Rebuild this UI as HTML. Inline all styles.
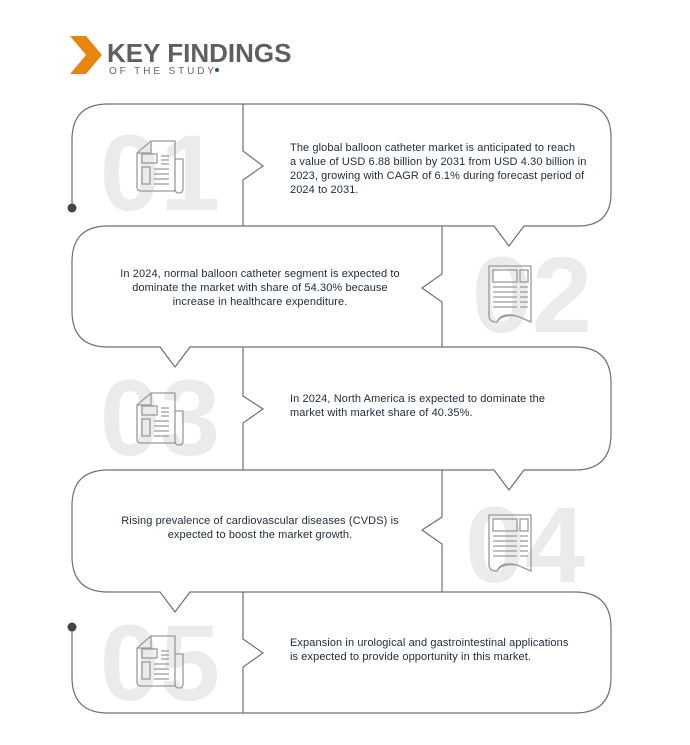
<!DOCTYPE html>
<html><head><meta charset="utf-8"><style>
body{margin:0;background:#fff;}
svg{display:block;}
.t{font-family:"Liberation Sans",sans-serif;font-size:11px;letter-spacing:0.1px;fill:#1e2a3a;}
.n{font-family:"Liberation Sans",sans-serif;font-weight:bold;font-size:108px;fill:#ebebeb;}
</style></head><body>
<svg width="690" height="745" viewBox="0 0 690 745" xmlns="http://www.w3.org/2000/svg">
<defs>
<g id="ic1" fill="none" stroke="#9a9a9a" stroke-width="1.3">
<path d="M14,0 H38 V50 H4 Q0,50 0,46 V12 Z M0,12 H14 V0"/>
<path d="M38,18 H46 V48 Q46,52 42,52 Q38,52 38,48"/>
<rect x="5" y="13" width="15" height="9"/><rect x="5" y="26" width="8" height="17"/>
<path d="M24,15 H32 M24,19 H32 M24,23 H32 M17,28 H32 M17,33 H32 M17,38 H32 M17,43 H32"/>
</g>
<g id="ic2" fill="none" stroke="#9a9a9a" stroke-width="1.3">
<path d="M0,0 H42 V56 L28,50 Q12,46 8,56 Q0,56 0,50 Z"/>
<path d="M8,56 Q12,48 28,50"/>
<rect x="4" y="4" width="24" height="12"/><rect x="31" y="4" width="8" height="12"/>
<path d="M4,21 H28 M4,26 H28 M4,31 H28 M4,36 H28 M4,41 H28 M31,21 H39 M31,26 H39 M31,31 H39 M31,36 H39 M31,41 H39"/>
</g>
</defs>
<polygon points="70,36 86,36 102,55 86,74 70,74 86,55" fill="#e8850f"/>
<text x="107" y="62" font-family="Liberation Sans,sans-serif" font-weight="bold" font-size="26" fill="#5f5f5f">KEY FINDINGS</text>
<text x="109" y="74" font-family="Liberation Sans,sans-serif" font-size="10" fill="#666" letter-spacing="2.9">OF THE STUDY</text>
<circle cx="217" cy="70" r="2" fill="#1b5e85"/>
<text class="n" x="160" y="210" text-anchor="middle">01</text>
<text class="n" x="532" y="332" text-anchor="middle">02</text>
<text class="n" x="160" y="455" text-anchor="middle">03</text>
<text class="n" x="525" y="582" text-anchor="middle">04</text>
<text class="n" x="160" y="700" text-anchor="middle">05</text>
<use href="#ic1" x="137" y="141"/>
<use href="#ic2" x="489" y="266"/>
<use href="#ic1" x="137" y="393"/>
<use href="#ic2" x="489" y="515"/>
<use href="#ic1" x="137" y="636"/>
<g fill="none" stroke="#707070" stroke-width="1.2">
<path d="M72,208 V140 Q72,104 108,104 H578 Q611,104 611,137 V193 Q611,226 578,226 H524 L509,246 L494,226 H108 Q72,226 72,262 V311 Q72,347 108,347 H160 L175,367 L190,347 H575 Q611,347 611,383 V434 Q611,470 575,470 H524 L509,490 L494,470 H108 Q72,470 72,506 V556 Q72,592 108,592 H160 L175,612 L190,592 H575 Q611,592 611,628 V677 Q611,713 575,713 H108 Q72,713 72,677 V627"/>
<path d="M243,104 V151 L263,166 L243,180 V226"/>
<path d="M442,226 V274 L422,288 L442,302 V347"/>
<path d="M243,347 V396 L263,409 L243,423 V470"/>
<path d="M442,470 V517 L422,530 L442,544 V592"/>
<path d="M243,592 V639 L263,653 L243,667 V713"/>
</g>
<circle cx="72" cy="208" r="4.5" fill="#444"/>
<circle cx="72" cy="627" r="4.5" fill="#444"/>
<text class="t" x="290" y="151">The global balloon catheter market is anticipated to reach</text>
<text class="t" x="290" y="165">a value of USD 6.88 billion by 2031 from USD 4.30 billion in</text>
<text class="t" x="290" y="179">2023, growing with CAGR of 6.1% during forecast period of</text>
<text class="t" x="290" y="193">2024 to 2031.</text>
<text class="t" x="260" y="277" text-anchor="middle">In 2024, normal balloon catheter segment is expected to</text>
<text class="t" x="260" y="291" text-anchor="middle">dominate the market with share of 54.30% because</text>
<text class="t" x="260" y="305" text-anchor="middle">increase in healthcare expenditure.</text>
<text class="t" x="290" y="402">In 2024, North America is expected to dominate the</text>
<text class="t" x="290" y="416">market with market share of 40.35%.</text>
<text class="t" x="260" y="524" text-anchor="middle">Rising prevalence of cardiovascular diseases (CVDS) is</text>
<text class="t" x="260" y="538" text-anchor="middle">expected to boost the market growth.</text>
<text class="t" x="290" y="646">Expansion in urological and gastrointestinal applications</text>
<text class="t" x="290" y="660">is expected to provide opportunity in this market.</text>
</svg>
</body></html>
